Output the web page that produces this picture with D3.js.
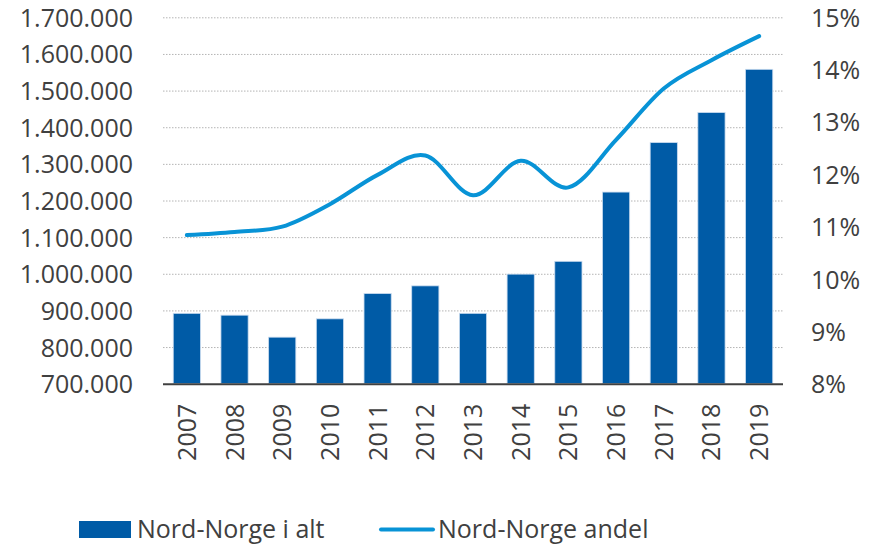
<!DOCTYPE html>
<html>
<head>
<meta charset="utf-8">
<script src="https://cdn.jsdelivr.net/npm/d3@7"></script>
<style>
  html, body { margin: 0; padding: 0; background: #fff; }
  svg { display: block; }
  text { font-family: "Open Sans", sans-serif; fill: #404040; }
</style>
</head>
<body>
<svg id="chart"></svg>
<script>
const years = ['2007', '2008', '2009', '2010', '2011', '2012', '2013', '2014', '2015', '2016', '2017', '2018', '2019'];
const totals = [892000, 887000, 827000, 877000, 946000, 967000, 892000, 999000, 1034000, 1223000, 1358000, 1440000, 1558000];
const shares = [10.84, 10.90, 11.00, 11.43, 11.99, 12.36, 11.60, 12.26, 11.75, 12.66, 13.64, 14.18, 14.64];
const leftTicks = [700000, 800000, 900000, 1000000, 1100000, 1200000, 1300000, 1400000, 1500000, 1600000, 1700000];
const rightTicks = [8, 9, 10, 11, 12, 13, 14, 15];
const legendLabels = ['Nord-Norge i alt', 'Nord-Norge andel'];

const width = 873;
const height = 544;
const margin = { top: 17.3, right: 90, bottom: 160.3, left: 163 };
const innerW = width - margin.left - margin.right;
const innerH = height - margin.top - margin.bottom;

const barColor = '#005ba6';
const lineColor = '#0893d6';

const svg = d3.select('#chart')
      .attr('width', width)
      .attr('height', height);

const g = svg.append('g')
      .attr('transform', `translate(${margin.left},${margin.top})`);

const x = d3.scaleBand()
      .domain(years)
      .range([0, innerW])
      .paddingInner(0.43)
      .paddingOuter(0.215);

const y = d3.scaleLinear()
      .domain([700000, 1700000])
      .range([innerH, 0]);

const y2 = d3.scaleLinear()
      .domain([8, 15])
      .range([innerH, 0]);

const fmt = (d) => d3.format(',')(d).replace(/,/g, '.');

// grid
g.append('g')
      .selectAll('line')
      .data(leftTicks.slice(1))
      .enter()
      .append('line')
      .attr('x1', 0)
      .attr('x2', innerW)
      .attr('y1', d => y(d) + 0.5)
      .attr('y2', d => y(d) + 0.5)
      .attr('stroke', '#b4b4b4')
      .attr('stroke-width', 1)
      .attr('stroke-dasharray', '1.5,1.5');

// left axis
const yAxis = d3.axisLeft(y).tickValues(leftTicks).tickFormat(fmt).tickSize(0).tickPadding(30);
const ya = g.append('g').call(yAxis);
ya.select('.domain').remove();
ya.selectAll('text')
      .style('font-size', '25px')
      .attr('fill', '#3a3a3a')
      .attr('dy', '0.36em');

// right axis
const y2Axis = d3.axisRight(y2).tickValues(rightTicks).tickFormat(d => d + '%').tickSize(0).tickPadding(28);
const ya2 = g.append('g').attr('transform', `translate(${innerW},0)`).call(y2Axis);
ya2.select('.domain').remove();
ya2.selectAll('text')
      .style('font-size', '25px')
      .attr('fill', '#3a3a3a')
      .attr('dy', '0.36em');

// bars
g.selectAll('.bar')
      .data(totals)
      .enter()
      .append('rect')
      .attr('class', 'bar')
      .attr('x', (d, i) => x(years[i]))
      .attr('y', d => y(d))
      .attr('width', x.bandwidth())
      .attr('height', d => innerH - y(d))
      .attr('fill', barColor)
      .attr('stroke', '#c9dbef')
      .attr('stroke-width', 0.8);

// x axis line
g.append('line')
      .attr('x1', 0)
      .attr('x2', innerW)
      .attr('y1', innerH + 0.5)
      .attr('y2', innerH + 0.5)
      .attr('stroke', '#404040')
      .attr('stroke-width', 2);

// year labels
const xAxis = d3.axisBottom(x).tickSize(0).tickPadding(0);
const xa = g.append('g').attr('transform', `translate(0,${innerH})`).call(xAxis);
xa.select('.domain').remove();
xa.selectAll('text')
      .style('font-size', '25px')
      .attr('fill', '#3a3a3a')
      .attr('transform', 'rotate(-90)')
      .attr('x', -20)
      .attr('y', 0)
      .attr('dy', '0.36em')
      .style('text-anchor', 'end');

// line
const line = d3.line()
      .x((d, i) => x(years[i]) + x.bandwidth() / 2)
      .y(d => y2(d))
      .curve(d3.curveCatmullRom.alpha(0));

g.append('path')
      .datum(shares)
      .attr('d', line)
      .attr('fill', 'none')
      .attr('stroke', lineColor)
      .attr('stroke-width', 4)
      .attr('stroke-linecap', 'round');

// legend
const legend = svg.append('g');
legend.append('rect')
      .attr('x', 79)
      .attr('y', 521)
      .attr('width', 52)
      .attr('height', 17)
      .attr('fill', barColor);
legend.append('text')
      .attr('x', 137)
      .attr('y', 538)
      .style('font-size', '25px')
      .attr('fill', '#3a3a3a')
      .text(legendLabels[0]);
legend.append('line')
      .attr('x1', 381)
      .attr('x2', 433)
      .attr('y1', 529.5)
      .attr('y2', 529.5)
      .attr('stroke', lineColor)
      .attr('stroke-width', 4)
      .attr('stroke-linecap', 'round');
legend.append('text')
      .attr('x', 438)
      .attr('y', 538)
      .style('font-size', '25px')
      .attr('fill', '#3a3a3a')
      .text(legendLabels[1]);
</script>
</body>
</html>
